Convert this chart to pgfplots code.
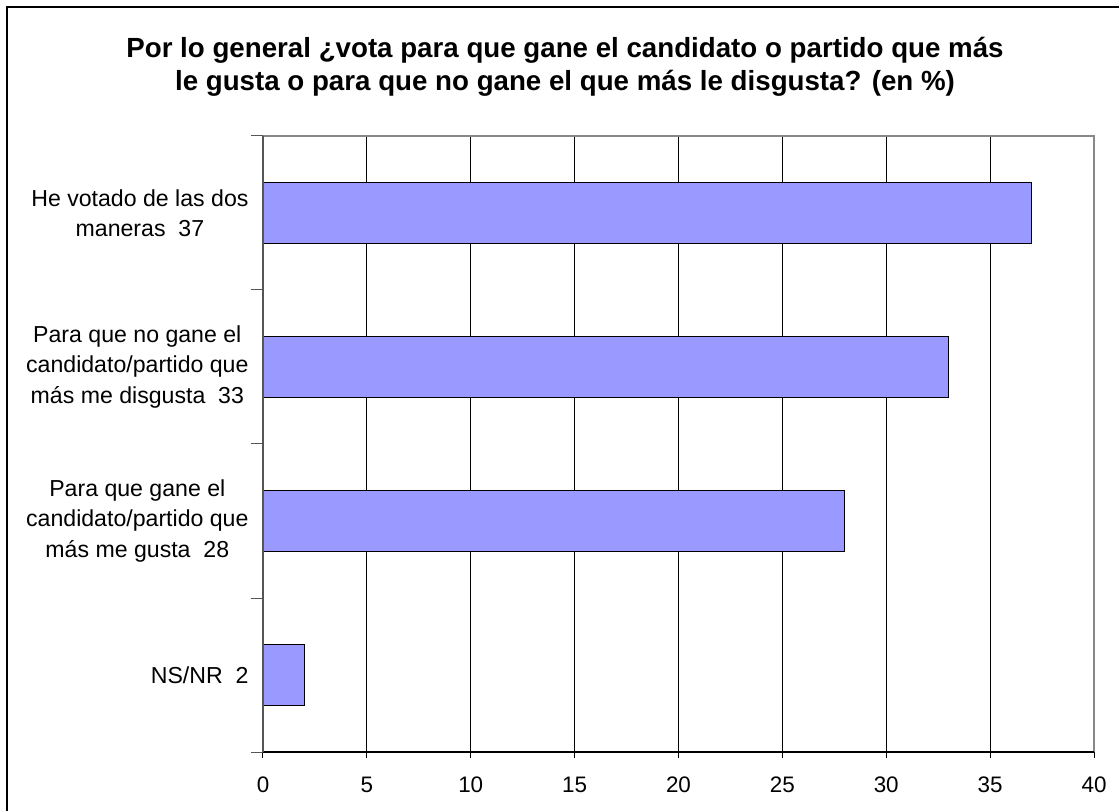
\documentclass[border=0pt]{standalone}
\usepackage{fontspec}
\setmainfont{Liberation Sans}
\usepackage{pgfplots}
\pgfplotsset{compat=1.18}
\definecolor{barfill}{HTML}{9999FF}
\definecolor{leftax}{HTML}{555555}
\definecolor{boxgray}{HTML}{888888}
\begin{document}
\begin{tikzpicture}
\useasboundingbox (-263bp,-59bp) rectangle (856bp,752bp);
\draw[line width=2bp] (-256bp,-80bp) -- (-256bp,745bp) -- (880bp,745bp);
\node[align=center, font=\fontsize{27.8}{33}\selectfont\bfseries] at (302bp,685bp)
  {Por lo general ¿vota para que gane el candidato o partido que más\\le gusta o para que no gane el que más le disgusta? (en \%)};
\begin{axis}[
  scale only axis,
  width=831bp, height=616bp,
  xbar,
  bar width=0.4,
  xmin=0, xmax=40,
  ymin=-0.5, ymax=3.5,
  xtick={0,5,...,40},
  xmajorgrids,
  major grid style={black, line width=0.8bp},
  xtick pos=lower,
  ytick pos=lower,
  xtick align=center,
  ytick align=outside,
  major tick length=12bp,
  axis line style={draw=none},
  x tick style={draw=black, line width=1bp},
  y tick style={draw=leftax, line width=1bp},
  ytick={-0.5,0.5,1.5,2.5,3.5},
  yticklabels={},
  extra y ticks={0,1,2,3},
  extra y tick labels={NS/NR\ \ 2,
    {Para que gane el\\candidato/partido que\\más me gusta\ \ 28},
    {Para que no gane el\\candidato/partido que\\más me disgusta\ \ 33},
    {He votado de las dos\\maneras\ \ 37}},
  extra y tick style={major tick length=0pt, grid=none,
    yticklabel style={align=center, font=\fontsize{23.2}{30.5}\selectfont, xshift=-11bp}},
  ticklabel style={font=\fontsize{22.5}{26}\selectfont},
  /pgf/number format/assume math mode=true,
  xticklabel style={anchor=base, yshift=-34bp},
  clip=false,
]
\addplot[fill=barfill, draw=black, line width=1bp] coordinates {(2,0) (28,1) (33,2) (37,3)};
\draw[boxgray, line width=1.5bp] (rel axis cs:0,1) -- (rel axis cs:1,1) -- (rel axis cs:1,0);
\draw[black, line width=1.5bp] (rel axis cs:0,0) -- (rel axis cs:1,0);
\draw[leftax, line width=2bp] (rel axis cs:0,0) -- (rel axis cs:0,1);
\end{axis}
\end{tikzpicture}
\end{document}
